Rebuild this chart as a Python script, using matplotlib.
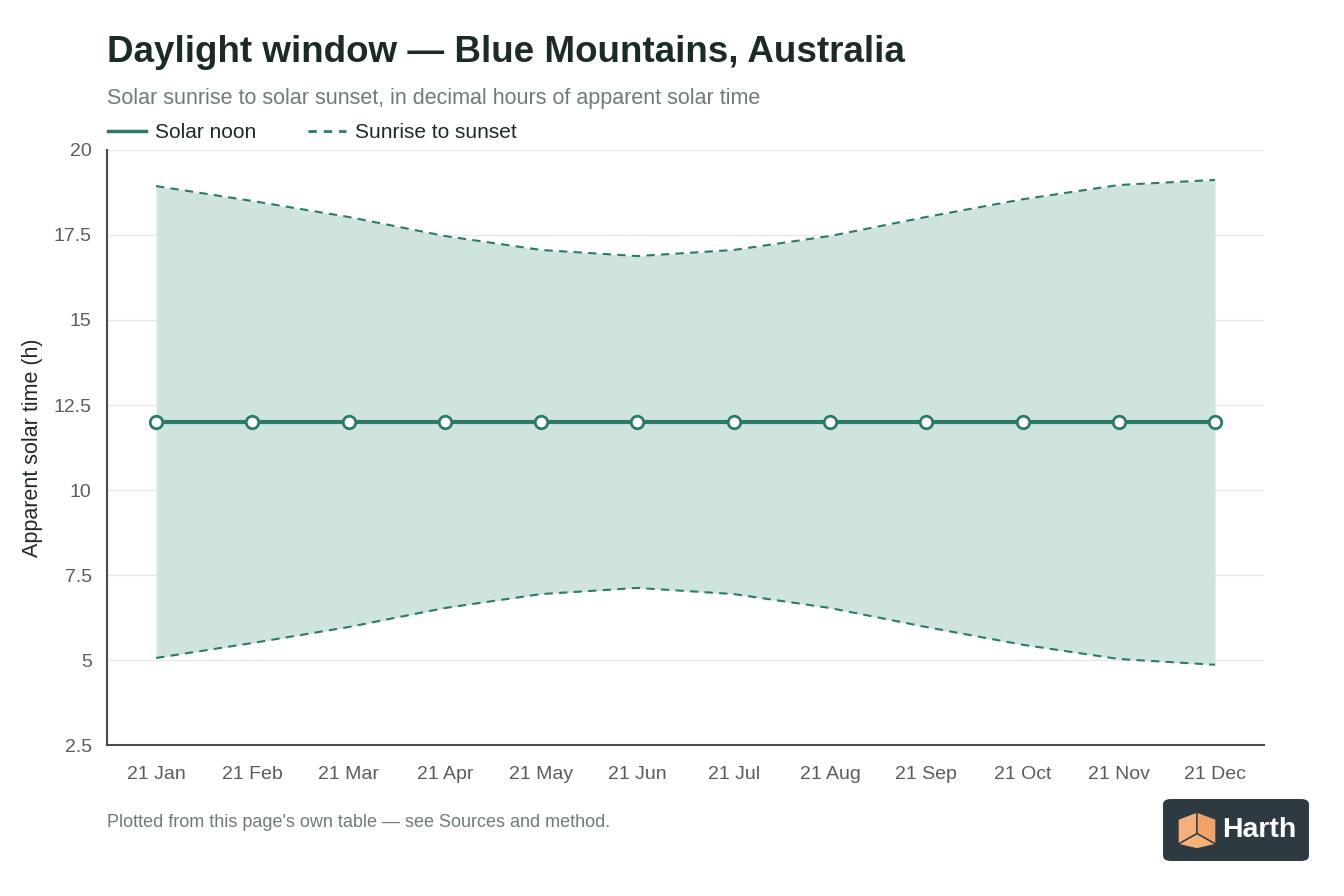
import matplotlib.pyplot as plt
from matplotlib.lines import Line2D
from matplotlib.patches import FancyBboxPatch, Polygon

plt.rcParams["font.family"] = ["Liberation Sans", "DejaVu Sans"]

months = ["21 Jan", "21 Feb", "21 Mar", "21 Apr", "21 May", "21 Jun",
          "21 Jul", "21 Aug", "21 Sep", "21 Oct", "21 Nov", "21 Dec"]
sunrise = [5.06, 5.50, 5.97, 6.53, 6.94, 7.12, 6.94, 6.53, 5.97, 5.45, 5.03, 4.86]
sunset = [18.94, 18.50, 18.03, 17.47, 17.06, 16.88, 17.06, 17.47, 18.03, 18.55, 18.97, 19.12]
noon = [12.0] * 12
yticks = [2.5, 5, 7.5, 10, 12.5, 15, 17.5, 20]
ytick_labels = ["2.5", "5", "7.5", "10", "12.5", "15", "17.5", "20"]

teal = "#2b7a6c"
fill_col = "#cfe3df"
dark = "#1d2b28"
grey = "#6d7c79"

fig = plt.figure(figsize=(13.44, 8.96), dpi=100)
ax = fig.add_axes([0.0796, 0.1685, 0.861, 0.6641])

x = list(range(len(months)))
ax.fill_between(x, sunrise, sunset, color=fill_col, lw=0, zorder=1)
ax.plot(x, sunset, color=teal, lw=1.5, ls=(0, (4, 3)), zorder=2)
ax.plot(x, sunrise, color=teal, lw=1.5, ls=(0, (4, 3)), zorder=2)
ax.plot(x, noon, color=teal, lw=3, marker="o", ms=9, mfc="white",
        mec=teal, mew=2, zorder=3)

ax.set_xlim(-0.51, 11.51)
ax.set_ylim(2.5, 20)
ax.set_xticks(x)
ax.set_xticklabels(months, fontsize=14, color="#555f5d")
ax.set_yticks(yticks)
ax.set_yticklabels(ytick_labels, fontsize=14, color="#555f5d")
ax.tick_params(length=0)
ax.tick_params(axis="y", pad=11)
ax.tick_params(axis="x", pad=15)
ax.yaxis.grid(True, color="#e6e9e8", lw=1)
ax.set_axisbelow(True)
for s in ["top", "right"]:
    ax.spines[s].set_visible(False)
for s in ["left", "bottom"]:
    ax.spines[s].set_color("#4a4a4a")
    ax.spines[s].set_linewidth(1.5)
ax.set_ylabel("Apparent solar time (h)", fontsize=15.5, color=dark, labelpad=8)

fig.text(0.0796, 0.941, "Daylight window \u2014 Blue Mountains, Australia",
         fontsize=26.5, color=dark, fontweight="bold", va="center")
fig.text(0.0796, 0.890, "Solar sunrise to solar sunset, in decimal hours of apparent solar time",
         fontsize=15.5, color=grey, va="center")

handles = [Line2D([], [], color=teal, lw=2.5, label="Solar noon"),
           Line2D([], [], color=teal, lw=2, ls=(0, (3, 2.5)), label="Sunrise to sunset")]
fig.legend(handles=handles, loc="center left", bbox_to_anchor=(0.0665, 0.852),
           ncol=2, frameon=False, fontsize=15, handlelength=1.8, columnspacing=2.5,
           handletextpad=0.45, labelcolor=dark)

fig.text(0.0796, 0.082, "Plotted from this page's own table \u2014 see Sources and method.",
         fontsize=13, color=grey, va="center")

# logo badge
badge = FancyBboxPatch((1163 / 1344, 1 - 861 / 896), 146 / 1344, 62 / 896,
                       boxstyle="round,pad=0,rounding_size=0.006",
                       transform=fig.transFigure, fc="#2d3a41", ec="none")
fig.patches.append(badge)
cx, cy = 1197 / 1344, 1 - 830 / 896
w, h = 19 / 1344, 18 / 896
orange = "#f4b07a"
fig.patches.append(Polygon([(cx - w, cy + h * 0.6), (cx, cy + h), (cx, cy - h * 0.2),
                            (cx - w, cy - h * 0.8)], closed=True, fc=orange, ec="#2d3a41",
                           lw=1, transform=fig.transFigure))
fig.patches.append(Polygon([(cx, cy + h), (cx + w, cy + h * 0.6), (cx + w, cy - h * 0.8),
                            (cx, cy - h * 0.2)], closed=True, fc="#f0a368", ec="#2d3a41",
                           lw=1, transform=fig.transFigure))
fig.patches.append(Polygon([(cx - w, cy - h * 0.8), (cx, cy - h * 0.2), (cx + w, cy - h * 0.8),
                            (cx, cy - h * 1.05)], closed=True, fc=orange, ec="#2d3a41",
                           lw=1, transform=fig.transFigure))
fig.text(1259 / 1344, 1 - 830 / 896, "Harth", fontsize=20.5, fontweight="bold",
         color="white", ha="center", va="center")

fig.savefig("out.png", dpi=100)
